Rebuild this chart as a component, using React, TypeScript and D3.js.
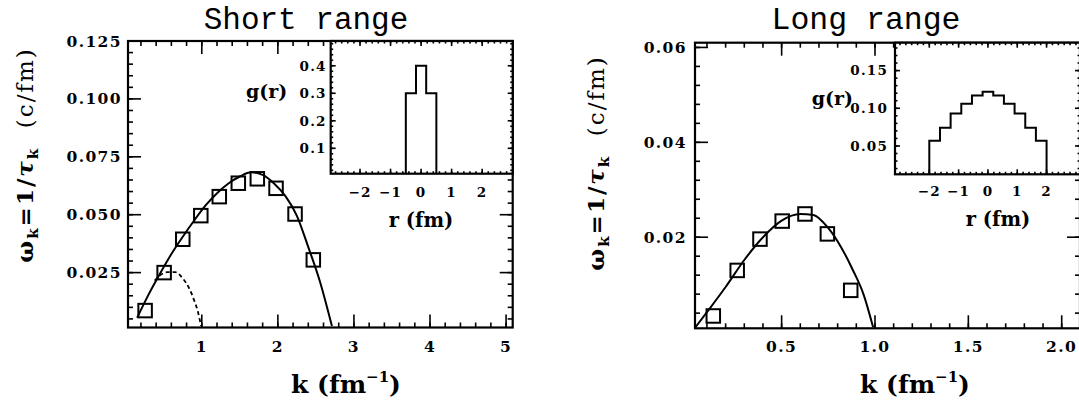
import React from 'react';
import * as d3 from 'd3';

// ---------- data ----------
const shortK = [0.255, 0.505, 0.75, 0.987, 1.23, 1.48, 1.73, 1.976, 2.226, 2.466];
const shortOmega = [0.0086, 0.025, 0.0394, 0.0496, 0.0578, 0.0636, 0.0655, 0.0614, 0.0503, 0.0305];
const shortCurveK = [0.15, 0.3, 0.45, 0.6, 0.75, 0.9, 1.05, 1.2, 1.35, 1.5, 1.65, 1.8, 1.95, 2.1, 2.25, 2.4, 2.55, 2.71];
const shortCurveOmega = [0.0055, 0.0155, 0.0245, 0.033, 0.0405, 0.0475, 0.054, 0.0593, 0.0635, 0.0665, 0.0683, 0.0672, 0.0635, 0.058, 0.0495, 0.036, 0.0215, 0.002];
const shortDashK = [0.38, 0.45, 0.55, 0.65, 0.75, 0.83, 0.9, 0.95, 0.99];
const shortDashOmega = [0.0215, 0.0238, 0.0252, 0.0252, 0.0225, 0.0185, 0.013, 0.008, 0.002];

const longK = [0.134, 0.262, 0.384, 0.503, 0.625, 0.745, 0.87];
const longOmega = [0.0034, 0.013, 0.0196, 0.0234, 0.0249, 0.0207, 0.0088];
const longCurveK = [0.036, 0.1, 0.2, 0.3, 0.4, 0.5, 0.6, 0.67, 0.75, 0.82, 0.88, 0.94, 0.99];
const longCurveOmega = [0.0009, 0.0042, 0.0095, 0.0152, 0.02, 0.0235, 0.0249, 0.0247, 0.0219, 0.0178, 0.0132, 0.0078, 0.001];

const shortGEdges = [-0.5, -0.167, 0.167, 0.5];
const shortGValues = [0.3, 0.4, 0.3];
const longGEdges = [-2, -1.636, -1.273, -0.909, -0.545, -0.182, 0.182, 0.545, 0.909, 1.273, 1.636, 2];
const longGValues = [0.057, 0.074, 0.093, 0.106, 0.117, 0.122, 0.117, 0.106, 0.093, 0.074, 0.057];

const shortXTicks = [1, 2, 3, 4, 5];
const shortYTicks = [0.025, 0.05, 0.075, 0.1, 0.125];
const longXTicks = [0.5, 1.0, 1.5, 2.0];
const longYTicks = [0.02, 0.04, 0.06];
const insetXTicks = [-2, -1, 0, 1, 2];
const shortInsetYTicks = [0.1, 0.2, 0.3, 0.4];
const longInsetYTicks = [0.05, 0.1, 0.15];

// ---------- helpers ----------
const TICK_FONT = "'DejaVu Serif', serif";

function minorTicks(dom: [number, number], step: number): number[] {
  const out: number[] = [];
  for (let i = Math.ceil(dom[0] / step - 1e-9); i * step <= dom[1] + 1e-9; i++) out.push(+(i * step).toFixed(6));
  return out;
}

type FrameProps = {
  id: string;
  box: [number, number, number, number];
  xDomain: [number, number];
  yDomain: [number, number];
  xMajor: number[];
  yMajor: number[];
  xMinorStep: number;
  yMinorStep: number;
  xFmt: (v: number) => string;
  yFmt: (v: number) => string;
  majorLen: number;
  minorLen: number;
  fontSize: number;
  letterSpacing: number;
  xLabelDy: number;
  yLabelGap: number;
  children?: (x: d3.ScaleLinear<number, number>, y: d3.ScaleLinear<number, number>) => React.ReactNode;
};

function Frame(p: FrameProps) {
  const [x0, y0, x1, y1] = p.box;
  const x = d3.scaleLinear().domain(p.xDomain).range([x0, x1]);
  const y = d3.scaleLinear().domain(p.yDomain).range([y1, y0]);
  const xMin = minorTicks(p.xDomain, p.xMinorStep);
  const yMin = minorTicks(p.yDomain, p.yMinorStep);
  const tickStyle = { stroke: '#000', strokeWidth: 1.6 };
  return (
    <g>
      <defs>
        <clipPath id={`clip-${p.id}`}>
          <rect x={x0} y={y0} width={x1 - x0} height={y1 - y0} />
        </clipPath>
      </defs>
      <rect x={x0} y={y0} width={x1 - x0} height={y1 - y0} fill="#fff" />
      {xMin.map((v, i) => (
        <g key={`xm${i}`}>
          <line x1={x(v)} x2={x(v)} y1={y1} y2={y1 - p.minorLen} {...tickStyle} />
          <line x1={x(v)} x2={x(v)} y1={y0} y2={y0 + p.minorLen} {...tickStyle} />
        </g>
      ))}
      {yMin.map((v, i) => (
        <g key={`ym${i}`}>
          <line x1={x0} x2={x0 + p.minorLen} y1={y(v)} y2={y(v)} {...tickStyle} />
          <line x1={x1} x2={x1 - p.minorLen} y1={y(v)} y2={y(v)} {...tickStyle} />
        </g>
      ))}
      {p.xMajor.map((v, i) => (
        <g key={`xM${i}`}>
          <line x1={x(v)} x2={x(v)} y1={y1} y2={y1 - p.majorLen} {...tickStyle} />
          <line x1={x(v)} x2={x(v)} y1={y0} y2={y0 + p.majorLen} {...tickStyle} />
          <text x={x(v)} y={y1 + p.xLabelDy} textAnchor="middle" fontFamily={TICK_FONT} fontWeight="bold"
            fontSize={p.fontSize} letterSpacing={p.letterSpacing}>{p.xFmt(v)}</text>
        </g>
      ))}
      {p.yMajor.map((v, i) => (
        <g key={`yM${i}`}>
          <line x1={x0} x2={x0 + p.majorLen} y1={y(v)} y2={y(v)} {...tickStyle} />
          <line x1={x1} x2={x1 - p.majorLen} y1={y(v)} y2={y(v)} {...tickStyle} />
          <text x={x0 - p.yLabelGap} y={y(v)} dy="0.36em" textAnchor="end" fontFamily={TICK_FONT} fontWeight="bold"
            fontSize={p.fontSize} letterSpacing={p.letterSpacing}>{p.yFmt(v)}</text>
        </g>
      ))}
      <g clipPath={`url(#clip-${p.id})`}>{p.children ? p.children(x, y) : null}</g>
      <rect x={x0} y={y0} width={x1 - x0} height={y1 - y0} fill="none" stroke="#000" strokeWidth={2.2} />
    </g>
  );
}

function curvePath(xs: number[], ys: number[], x: any, y: any) {
  const pts = xs.map((k, i) => [k, ys[i]] as [number, number]);
  return d3.line<[number, number]>().x(d => x(d[0])).y(d => y(d[1])).curve(d3.curveMonotoneX)(pts) || '';
}

function histPath(edges: number[], vals: number[], x: any, y: any, base: number) {
  const p = d3.path();
  p.moveTo(x(edges[0]), y(base));
  vals.forEach((v, i) => {
    p.lineTo(x(edges[i]), y(v));
    p.lineTo(x(edges[i + 1]), y(v));
  });
  p.lineTo(x(edges[edges.length - 1]), y(base));
  return p.toString();
}

function Squares({ xs, ys, x, y }: any) {
  const s = 13.5;
  return (
    <g>
      {xs.map((k: number, i: number) => (
        <rect key={i} x={x(k) - s / 2} y={y(ys[i]) - s / 2} width={s} height={s} fill="none" stroke="#000" strokeWidth={2} />
      ))}
    </g>
  );
}

function YLabel({ cx, cy }: { cx: number; cy: number }) {
  return (
    <text transform={`translate(${cx},${cy}) rotate(-90)`} textAnchor="middle" fontFamily={TICK_FONT}
      fontWeight="bold" fontSize={23} letterSpacing={2}>
      <tspan>ω</tspan>
      <tspan fontSize={15} dy={5}>k</tspan>
      <tspan dy={-5}>=1/</tspan>
      <tspan fontStyle="italic">τ</tspan>
      <tspan fontSize={15} dy={5}>k</tspan>
      <tspan dy={-5} fontWeight="normal">{'\u00a0\u00a0(c/fm)'}</tspan>
    </text>
  );
}

function KLabel({ cx, y }: { cx: number; y: number }) {
  return (
    <text x={cx} y={y} textAnchor="middle" fontFamily={TICK_FONT} fontWeight="bold" fontSize={25}>
      <tspan>k (fm</tspan>
      <tspan fontSize={15} dy={-11}>−1</tspan>
      <tspan dy={11}>)</tspan>
    </text>
  );
}

const fmt3 = d3.format('.3f');
const fmt2 = d3.format('.2f');
const fmt1 = d3.format('.1f');
const fmtInt = d3.format('d');

export default function App() {
  return (
    <svg width={1079} height={404} style={{ position: 'absolute', left: 0, top: 0 }}>
      <rect width={1079} height={404} fill="#fff" />

      {/* ---------- Short range ---------- */}
      <text x={306} y={28.5} textAnchor="middle" fontFamily="'Liberation Mono', monospace" fontSize={31}>Short range</text>
      <Frame id="sm" box={[128, 41, 512.7, 327.5]} xDomain={[0.03, 5.087]} yDomain={[0.0013, 0.125]}
        xMajor={shortXTicks} yMajor={shortYTicks} xMinorStep={0.2} yMinorStep={0.005}
        xFmt={fmtInt} yFmt={fmt3} majorLen={13} minorLen={5} fontSize={15.5} letterSpacing={1.4}
        xLabelDy={24} yLabelGap={6}>
        {(x, y) => (
          <g>
            <path d={curvePath(shortCurveK, shortCurveOmega, x, y)} fill="none" stroke="#000" strokeWidth={2} />
            <path d={curvePath(shortDashK, shortDashOmega, x, y)} fill="none" stroke="#000" strokeWidth={1.8} strokeDasharray="4,3" />
            <Squares xs={shortK} ys={shortOmega} x={x} y={y} />
          </g>
        )}
      </Frame>
      <Frame id="si" box={[330.7, 41, 512.7, 173.7]} xDomain={[-2.96, 3.0]} yDomain={[0.0077, 0.49]}
        xMajor={insetXTicks} yMajor={shortInsetYTicks} xMinorStep={0.2} yMinorStep={0.02}
        xFmt={fmtInt} yFmt={fmt1} majorLen={5} minorLen={2.5} fontSize={13.5} letterSpacing={1.2}
        xLabelDy={23} yLabelGap={4}>
        {(x, y) => (
          <path d={histPath(shortGEdges, shortGValues, x, y, 0)} fill="none" stroke="#000" strokeWidth={2} />
        )}
      </Frame>
      <text x={246} y={98} fontFamily={TICK_FONT} fontWeight="bold" fontSize={19}>g(r)</text>
      <text x={421} y={227} textAnchor="middle" fontFamily={TICK_FONT} fontWeight="bold" fontSize={19.5}>r (fm)</text>
      <YLabel cx={33} cy={155} />
      <KLabel cx={346} y={393} />

      {/* ---------- Long range ---------- */}
      <text x={866} y={29} textAnchor="middle" fontFamily="'Liberation Mono', monospace" fontSize={31.5}>Long range</text>
      <Frame id="lm" box={[695, 42.7, 1080, 328.3]} xDomain={[0.036, 2.098]} yDomain={[0.0008, 0.061]}
        xMajor={longXTicks} yMajor={longYTicks} xMinorStep={0.1} yMinorStep={0.004}
        xFmt={fmt1} yFmt={fmt2} majorLen={13} minorLen={5} fontSize={15.5} letterSpacing={1.4}
        xLabelDy={23.5} yLabelGap={8}>
        {(x, y) => (
          <g>
            <path d={curvePath(longCurveK, longCurveOmega, x, y)} fill="none" stroke="#000" strokeWidth={2} />
            <Squares xs={longK} ys={longOmega} x={x} y={y} />
          </g>
        )}
      </Frame>
      <Frame id="li" box={[895, 42.7, 1080, 174.3]} xDomain={[-3.17, 3.14]} yDomain={[0.0124, 0.187]}
        xMajor={insetXTicks} yMajor={longInsetYTicks} xMinorStep={0.2} yMinorStep={0.01}
        xFmt={fmtInt} yFmt={fmt2} majorLen={5} minorLen={2.5} fontSize={13.5} letterSpacing={1.2}
        xLabelDy={22} yLabelGap={7}>
        {(x, y) => (
          <path d={histPath(longGEdges, longGValues, x, y, 0)} fill="none" stroke="#000" strokeWidth={2} />
        )}
      </Frame>
      <text x={811.7} y={105} fontFamily={TICK_FONT} fontWeight="bold" fontSize={19}>g(r)</text>
      <text x={998} y={226} textAnchor="middle" fontFamily={TICK_FONT} fontWeight="bold" fontSize={19.5}>r (fm)</text>
      <YLabel cx={604} cy={163} />
      <KLabel cx={915} y={393} />
    </svg>
  );
}
